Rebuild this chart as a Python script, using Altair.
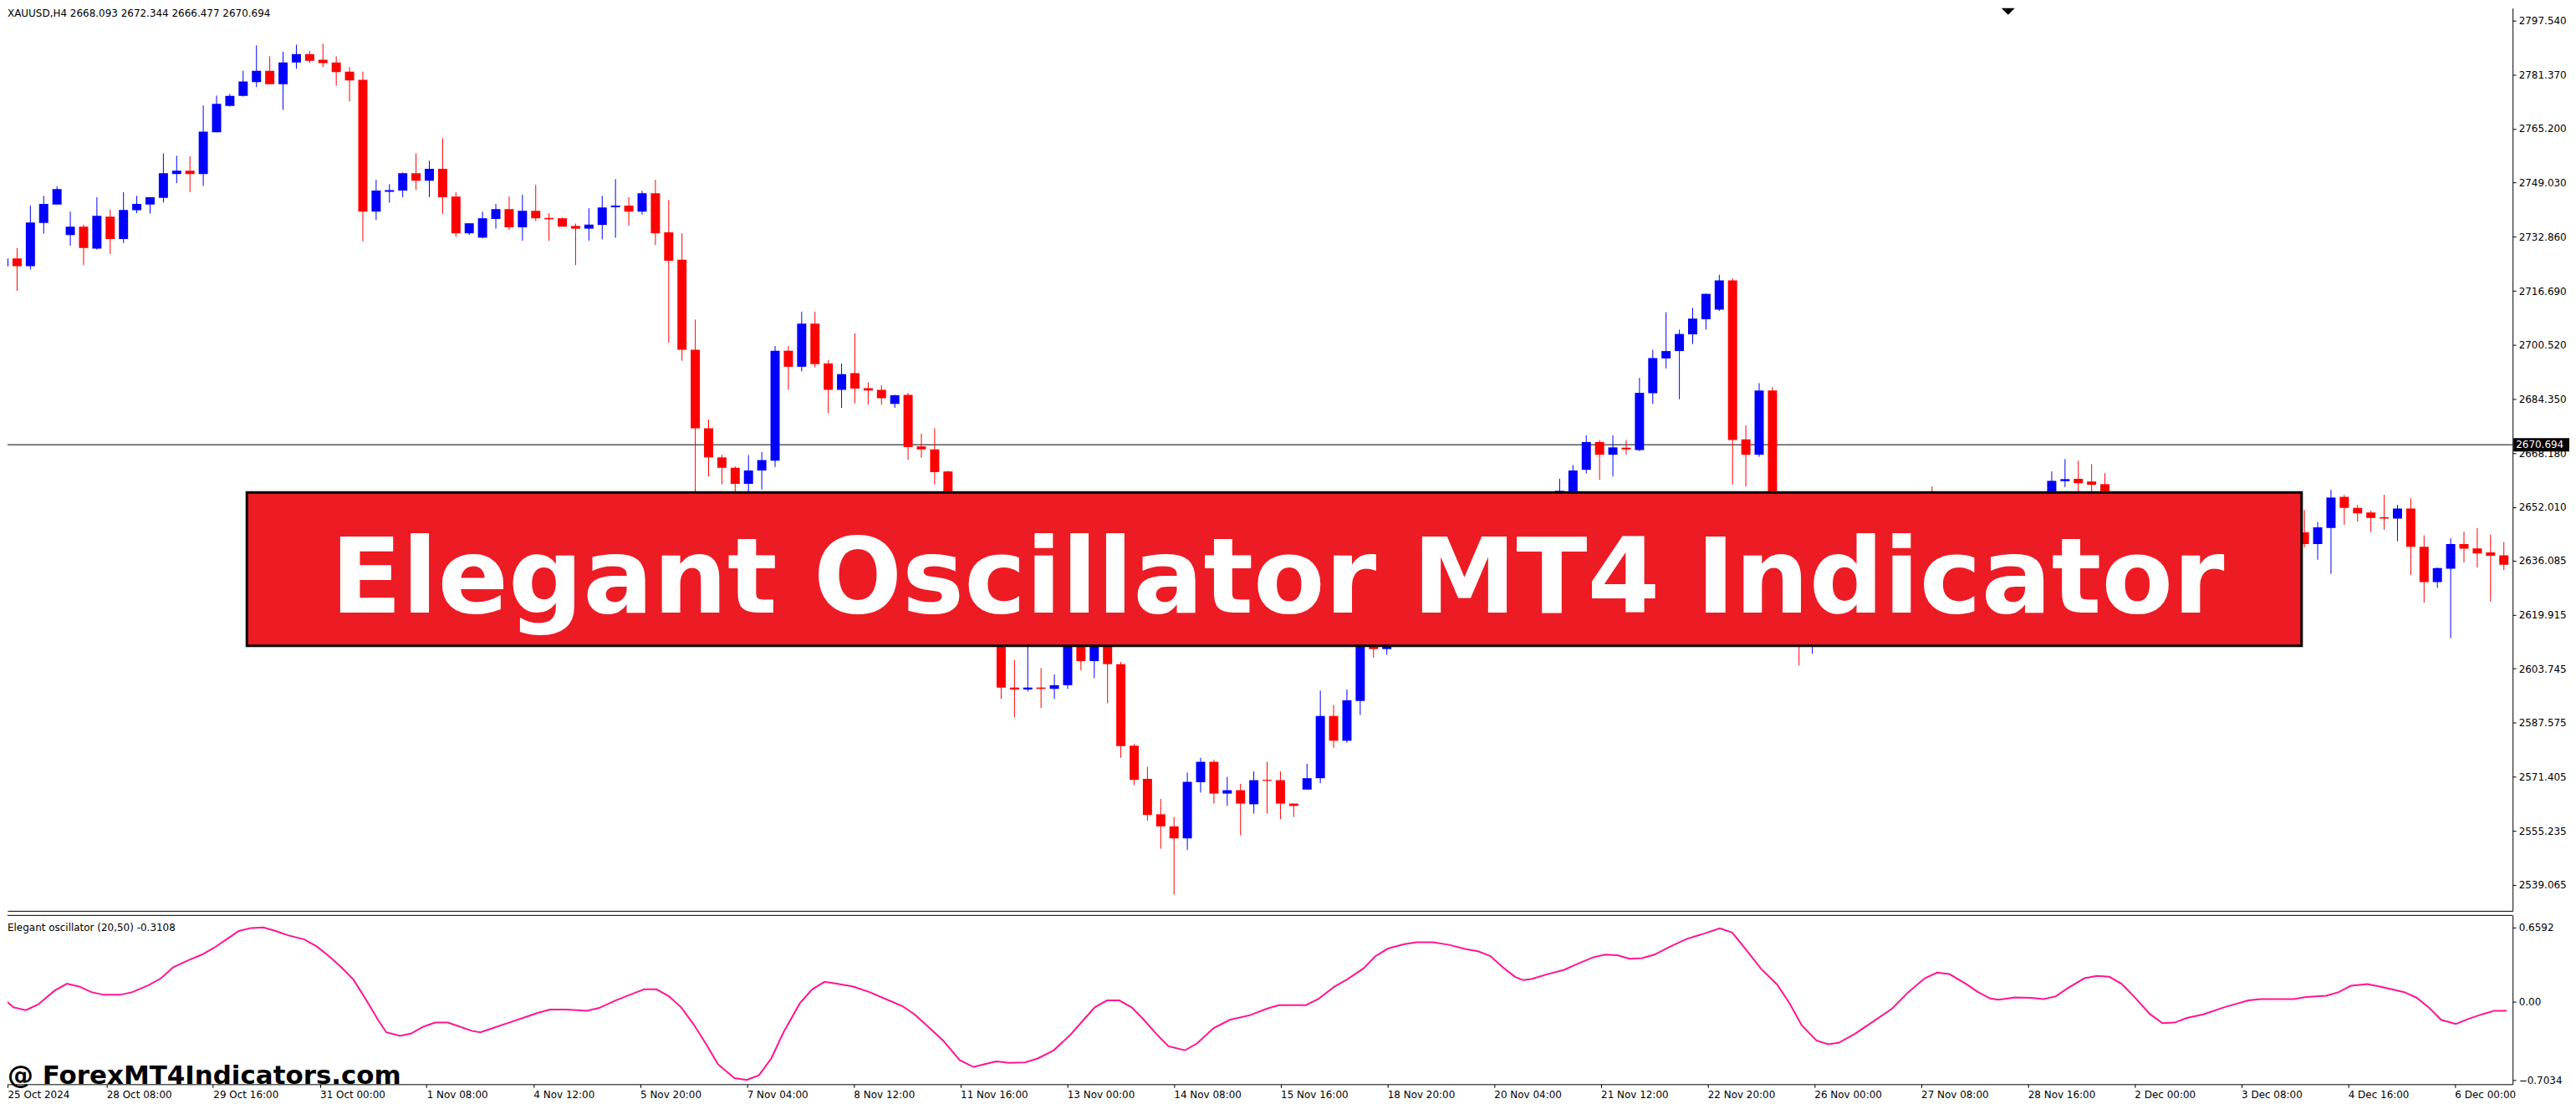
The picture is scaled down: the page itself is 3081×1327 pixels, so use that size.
import json
import altair as alt
import pandas as pd

# ---------------- data ----------------
opens = [
    2724.0, 2726.4, 2724.1, 2737.0, 2742.5, 2733.4, 2735.9, 2729.3, 2738.9, 2732.2,
    2740.8, 2742.5, 2744.5, 2751.6, 2752.6, 2751.6, 2764.1, 2772.0, 2775.0, 2779.1,
    2782.5, 2778.5, 2785.0, 2787.5, 2785.8, 2785.0, 2782.2, 2779.8, 2740.4, 2746.3,
    2746.7, 2751.9, 2749.6, 2753.2, 2744.9, 2733.9, 2732.6, 2738.2, 2741.1, 2735.7,
    2740.6, 2738.5, 2738.4, 2736.1, 2735.3, 2736.4, 2741.7, 2742.2, 2740.4, 2745.9,
    2734.2, 2726.0, 2699.1, 2675.6, 2666.9, 2663.8, 2659.0, 2663.0, 2665.9, 2698.8,
    2694.0, 2706.9, 2695.0, 2687.1, 2692.1, 2687.6, 2687.1, 2682.9, 2685.6, 2670.2,
    2669.3, 2662.7, 2648.0, 2632.0, 2638.0, 2622.0, 2598.1, 2597.5, 2598.1, 2597.7,
    2598.8, 2614.0, 2606.0, 2613.0, 2605.1, 2580.7, 2570.8, 2560.2, 2556.6, 2553.0,
    2569.8, 2575.9, 2566.4, 2567.4, 2563.2, 2570.4, 2570.4, 2563.4, 2567.6, 2571.0,
    2589.6, 2582.2, 2594.1, 2618.0, 2609.6, 2624.0, 2632.0, 2628.0, 2640.0, 2636.0,
    2645.0, 2641.0, 2638.0, 2644.0, 2640.0, 2646.0, 2650.0, 2656.4, 2652.0, 2663.2,
    2671.5, 2667.7, 2669.8, 2669.1, 2686.1, 2696.5, 2698.7, 2703.7, 2708.2, 2711.1,
    2719.8, 2672.3, 2667.7, 2686.9, 2640.0, 2627.0, 2616.0, 2621.0, 2617.0, 2626.0,
    2631.0, 2634.0, 2639.0, 2643.0, 2647.0, 2650.0, 2648.0, 2645.0, 2640.0, 2637.0,
    2639.0, 2638.0, 2642.0, 2645.0, 2650.0, 2659.8, 2660.5, 2659.7, 2658.9, 2648.0,
    2642.0, 2634.0, 2628.0, 2631.0, 2636.0, 2633.0, 2638.0, 2641.0, 2639.0, 2643.0,
    2641.0, 2644.0, 2642.0, 2644.5, 2641.0, 2645.8, 2655.1, 2651.8, 2650.4, 2649.0,
    2648.6, 2651.6, 2640.2, 2629.6, 2633.6, 2641.0, 2639.7, 2638.5, 2637.6,
]
highs = [
    2728.0, 2729.5, 2742.2, 2745.1, 2747.9, 2740.4, 2736.5, 2744.7, 2741.0, 2746.2,
    2745.1, 2744.7, 2757.8, 2757.1, 2756.9, 2772.1, 2775.1, 2775.6, 2782.5, 2790.1,
    2786.8, 2788.2, 2790.3, 2788.4, 2790.6, 2786.8, 2783.6, 2782.2, 2749.9, 2748.6,
    2752.1, 2757.8, 2755.6, 2762.3, 2746.2, 2736.9, 2740.4, 2742.7, 2744.9, 2745.4,
    2748.4, 2739.9, 2738.6, 2736.8, 2741.4, 2745.1, 2750.1, 2744.7, 2746.6, 2749.9,
    2743.9, 2733.9, 2708.1, 2678.2, 2667.7, 2664.2, 2667.6, 2668.5, 2700.2, 2700.2,
    2710.5, 2710.5, 2696.0, 2695.0, 2704.0, 2689.3, 2688.5, 2685.6, 2686.2, 2674.0,
    2675.6, 2662.9, 2650.0, 2641.0, 2640.0, 2624.0, 2606.4, 2613.0, 2603.9, 2602.0,
    2616.0, 2616.0, 2615.0, 2615.0, 2605.8, 2581.2, 2574.4, 2564.8, 2559.4, 2572.7,
    2577.1, 2576.5, 2571.4, 2569.3, 2573.0, 2575.9, 2573.0, 2563.4, 2575.3, 2597.2,
    2592.9, 2597.5, 2620.0, 2621.0, 2626.0, 2634.0, 2636.0, 2642.0, 2644.0, 2648.0,
    2647.0, 2643.0, 2646.0, 2645.0, 2648.0, 2652.0, 2656.5, 2660.5, 2664.6, 2673.5,
    2672.1, 2673.5, 2672.1, 2690.7, 2699.1, 2710.3, 2705.1, 2711.6, 2715.9, 2721.5,
    2720.4, 2676.5, 2689.1, 2687.9, 2642.0, 2630.0, 2624.0, 2625.0, 2628.0, 2633.0,
    2636.0, 2641.0, 2645.0, 2649.0, 2652.0, 2658.2, 2653.0, 2649.0, 2644.0, 2641.0,
    2643.0, 2644.0, 2647.0, 2652.0, 2662.7, 2666.4, 2665.9, 2664.9, 2662.2, 2650.0,
    2644.0, 2637.0, 2634.0, 2638.0, 2639.0, 2641.0, 2644.0, 2643.0, 2646.0, 2645.0,
    2647.0, 2646.0, 2648.0, 2651.2, 2647.6, 2657.2, 2655.7, 2652.7, 2651.0, 2655.7,
    2652.7, 2654.7, 2643.6, 2634.0, 2642.7, 2644.7, 2645.8, 2643.8, 2641.6,
]
lows = [
    2722.0, 2716.7, 2723.1, 2733.8, 2742.5, 2730.2, 2724.4, 2729.0, 2727.7, 2731.0,
    2739.9, 2739.8, 2743.1, 2748.9, 2746.2, 2748.1, 2764.1, 2771.8, 2774.8, 2777.6,
    2778.5, 2770.8, 2783.1, 2784.8, 2783.6, 2778.0, 2773.3, 2731.5, 2737.9, 2743.1,
    2744.7, 2746.9, 2744.7, 2739.7, 2732.9, 2733.4, 2732.4, 2735.3, 2734.9, 2731.7,
    2737.6, 2731.7, 2735.9, 2724.4, 2731.7, 2732.1, 2732.6, 2736.2, 2739.5, 2730.4,
    2701.2, 2695.8, 2650.0, 2661.2, 2658.8, 2654.0, 2653.0, 2657.3, 2664.0, 2687.1,
    2692.6, 2693.8, 2680.1, 2681.7, 2683.1, 2682.7, 2682.7, 2681.7, 2666.2, 2666.8,
    2658.8, 2645.0, 2628.0, 2629.0, 2618.0, 2594.7, 2589.2, 2596.9, 2592.0, 2594.7,
    2597.7, 2603.2, 2600.9, 2593.4, 2577.1, 2568.9, 2558.3, 2549.9, 2536.2, 2549.6,
    2566.7, 2563.4, 2562.7, 2553.9, 2560.4, 2560.4, 2558.8, 2559.4, 2567.6, 2569.5,
    2580.1, 2581.6, 2589.9, 2607.0, 2607.9, 2620.0, 2626.0, 2627.0, 2633.0, 2634.0,
    2638.0, 2634.0, 2636.0, 2637.0, 2638.0, 2644.0, 2648.0, 2652.0, 2650.0, 2662.1,
    2660.2, 2661.2, 2667.7, 2668.8, 2682.9, 2693.5, 2684.3, 2700.8, 2705.1, 2710.7,
    2658.8, 2658.2, 2667.1, 2636.0, 2624.0, 2604.7, 2608.2, 2613.0, 2615.0, 2622.0,
    2627.0, 2632.0, 2636.0, 2640.0, 2643.0, 2646.0, 2643.0, 2638.0, 2634.0, 2633.0,
    2635.0, 2636.0, 2640.0, 2643.0, 2648.0, 2658.0, 2655.0, 2654.0, 2645.0, 2639.0,
    2630.0, 2622.0, 2620.0, 2628.0, 2630.0, 2631.0, 2636.0, 2636.0, 2637.0, 2638.0,
    2639.0, 2639.0, 2640.0, 2640.0, 2636.3, 2632.1, 2646.8, 2647.7, 2644.6, 2645.3,
    2641.8, 2631.8, 2623.5, 2627.9, 2612.9, 2635.5, 2634.0, 2623.8, 2633.2,
]
closes = [
    2726.4, 2724.1, 2737.1, 2742.7, 2747.1, 2735.9, 2729.5, 2739.1, 2732.2, 2740.9,
    2742.7, 2744.7, 2751.9, 2752.6, 2751.6, 2764.3, 2772.6, 2775.0, 2779.3, 2782.5,
    2778.5, 2785.0, 2787.5, 2785.5, 2784.8, 2782.1, 2779.6, 2740.4, 2746.7, 2746.8,
    2751.9, 2749.6, 2753.2, 2744.7, 2733.9, 2736.9, 2738.4, 2741.1, 2735.7, 2740.6,
    2738.4, 2738.1, 2735.9, 2735.3, 2736.5, 2741.6, 2742.2, 2740.4, 2745.9, 2733.9,
    2725.7, 2699.1, 2675.6, 2666.9, 2663.8, 2659.0, 2663.0, 2666.1, 2698.8, 2694.0,
    2706.9, 2694.8, 2687.1, 2691.8, 2687.5, 2686.9, 2684.6, 2685.5, 2670.0, 2669.3,
    2662.5, 2648.0, 2632.0, 2638.0, 2622.0, 2598.1, 2597.5, 2598.1, 2597.7, 2598.8,
    2614.0, 2606.0, 2613.0, 2605.1, 2580.6, 2570.5, 2560.0, 2556.6, 2553.0, 2569.9,
    2575.9, 2566.4, 2567.4, 2563.4, 2570.4, 2570.2, 2563.4, 2562.7, 2571.0, 2589.6,
    2582.2, 2594.3, 2618.0, 2609.6, 2624.0, 2632.0, 2628.0, 2640.0, 2636.0, 2645.0,
    2641.0, 2638.0, 2644.0, 2640.0, 2646.0, 2650.0, 2656.4, 2656.9, 2663.0, 2671.5,
    2667.7, 2669.9, 2669.3, 2686.2, 2696.6, 2698.7, 2703.8, 2708.4, 2715.8, 2719.8,
    2672.1, 2667.7, 2686.9, 2640.0, 2627.0, 2616.0, 2621.0, 2617.0, 2626.0, 2631.0,
    2634.0, 2639.0, 2643.0, 2647.0, 2650.0, 2648.0, 2645.0, 2640.0, 2637.0, 2639.0,
    2638.0, 2642.0, 2645.0, 2650.0, 2659.9, 2660.4, 2659.2, 2658.7, 2648.0, 2642.0,
    2634.0, 2628.0, 2631.0, 2636.0, 2633.0, 2638.0, 2641.0, 2639.0, 2643.0, 2641.0,
    2644.0, 2642.0, 2644.5, 2641.0, 2646.0, 2654.9, 2651.8, 2650.2, 2648.8, 2648.6,
    2651.6, 2640.2, 2629.6, 2633.8, 2641.0, 2639.6, 2638.2, 2637.5, 2634.8,
]

# oscillator trace: (bar position, value)
osc_trace = [
    (0.1, 0.040), (1.05, -0.054), (1.97, -0.079), (2.89, -0.029), (4.12, 0.095),
    (5.04, 0.157), (5.96, 0.132), (6.88, 0.082), (7.8, 0.058), (9.03, 0.058),
    (9.95, 0.082), (11.17, 0.144), (12.1, 0.206), (13.02, 0.305), (14.24, 0.372),
    (15.16, 0.417), (16.09, 0.479), (17.0, 0.553), (17.93, 0.628), (18.85, 0.655),
    (19.77, 0.659), (20.69, 0.628), (21.61, 0.590), (22.84, 0.553), (23.76, 0.491),
    (24.68, 0.404), (25.6, 0.305), (26.52, 0.194), (27.44, 0.020), (28.36, -0.165),
    (28.98, -0.277), (30.02, -0.309), (30.82, -0.289), (31.74, -0.227), (32.66, -0.190),
    (33.58, -0.190), (34.5, -0.227), (35.42, -0.265), (36.04, -0.277), (36.96, -0.240),
    (38.19, -0.190), (39.41, -0.141), (40.33, -0.104), (41.25, -0.074), (42.48, -0.074),
    (44.02, -0.084), (44.94, -0.059), (46.17, 0.008), (47.39, 0.065), (48.31, 0.107),
    (49.24, 0.107), (50.16, 0.045), (51.08, -0.054), (52.0, -0.203), (52.92, -0.376),
    (53.84, -0.562), (55.07, -0.686), (55.99, -0.703), (56.91, -0.661), (57.83, -0.512),
    (58.75, -0.277), (59.98, -0.017), (60.9, 0.107), (61.82, 0.174), (62.74, 0.157),
    (63.97, 0.132), (65.2, 0.082), (66.42, 0.020), (67.65, -0.042), (68.57, -0.116),
    (69.49, -0.215), (70.72, -0.351), (71.95, -0.525), (72.99, -0.587), (73.79, -0.562),
    (74.71, -0.537), (75.63, -0.550), (76.86, -0.545), (77.78, -0.512), (79.0, -0.438),
    (80.23, -0.302), (81.15, -0.178), (82.08, -0.054), (83.0, 0.008), (83.92, 0.008),
    (84.84, -0.054), (85.76, -0.165), (86.68, -0.289), (87.6, -0.401), (88.83, -0.438),
    (89.75, -0.376), (90.98, -0.240), (92.2, -0.165), (93.74, -0.123), (94.97, -0.066),
    (95.89, -0.034), (97.91, -0.034), (98.83, 0.020), (100.06, 0.132), (100.98, 0.194),
    (102.21, 0.293), (103.13, 0.404), (104.05, 0.471), (105.28, 0.511), (106.2, 0.528),
    (107.43, 0.528), (108.66, 0.504), (109.89, 0.466), (110.81, 0.447), (111.73, 0.404),
    (112.65, 0.305), (113.57, 0.219), (114.19, 0.189), (114.8, 0.199), (116.03, 0.243),
    (117.26, 0.281), (118.18, 0.330), (119.41, 0.392), (120.33, 0.417), (121.25, 0.412),
    (122.17, 0.380), (123.1, 0.385), (124.02, 0.417), (125.24, 0.491), (126.47, 0.558),
    (127.7, 0.603), (128.93, 0.652), (129.85, 0.615), (130.77, 0.479), (132.0, 0.293),
    (133.23, 0.149), (134.15, -0.017), (135.07, -0.215), (136.18, -0.351), (137.04, -0.383),
    (137.84, -0.371), (139.07, -0.289), (140.3, -0.190), (141.83, -0.066), (143.06, 0.082),
    (144.29, 0.206), (145.21, 0.256), (146.13, 0.243), (147.36, 0.157), (148.28, 0.082),
    (149.2, 0.025), (149.81, 0.015), (151.04, 0.035), (152.27, 0.030), (153.19, 0.020),
    (154.11, 0.045), (155.03, 0.119), (156.26, 0.206), (157.19, 0.226), (158.11, 0.219),
    (159.03, 0.157), (159.95, 0.045), (161.18, -0.116), (162.1, -0.195), (163.02, -0.190),
    (163.94, -0.148), (165.17, -0.116), (166.71, -0.054), (168.55, 0.008), (169.47, 0.020),
    (171.93, 0.020), (172.85, 0.038), (174.38, 0.050), (175.31, 0.082), (176.23, 0.139),
    (177.46, 0.154), (178.38, 0.132), (179.3, 0.107), (180.22, 0.082), (181.14, 0.033),
    (182.06, -0.054), (182.98, -0.165), (184.09, -0.202), (185.13, -0.153), (186.06, -0.116),
    (186.98, -0.084), (187.9, -0.084),
]

price_ticks = [2797.540, 2781.370, 2765.200, 2749.030, 2732.860, 2716.690, 2700.520,
               2684.350, 2668.180, 2652.010, 2636.085, 2619.915, 2603.745, 2587.575,
               2571.405, 2555.235, 2539.065]
osc_ticks = [0.6592, 0.0, -0.7034]
date_labels = ["25 Oct 2024", "28 Oct 08:00", "29 Oct 16:00", "31 Oct 00:00", "1 Nov 08:00",
               "4 Nov 12:00", "5 Nov 20:00", "7 Nov 04:00", "8 Nov 12:00", "11 Nov 16:00",
               "13 Nov 00:00", "14 Nov 08:00", "15 Nov 16:00", "18 Nov 20:00", "20 Nov 04:00",
               "21 Nov 12:00", "22 Nov 20:00", "26 Nov 00:00", "27 Nov 08:00", "28 Nov 16:00",
               "2 Dec 00:00", "3 Dec 08:00", "4 Dec 16:00", "6 Dec 00:00"]
bid_price = 2670.694
header_text = "XAUUSD,H4  2668.093 2672.344 2666.477 2670.694"
osc_title = "Elegant oscillator (20,50) -0.3108"
banner_title = "Elegant Oscillator MT4 Indicator"
watermark_text = "@ ForexMT4Indicators.com"

# ---------------- tables ----------------
n = min(len(opens), len(highs), len(lows), len(closes))
df = pd.DataFrame({
    "bar": list(range(n)),
    "open": opens[:n], "high": highs[:n], "low": lows[:n], "close": closes[:n],
})
osc_df = pd.DataFrame({"bar": [p[0] for p in osc_trace], "val": [p[1] for p in osc_trace]})
one = pd.DataFrame({"k": [0]})

# ---------------- layout ----------------
W, H_MAIN, H_OSC = 3004, 1083, 203
X_DOM = [0.59375, 188.34375]
FONT = "DejaVu Sans"

xscale = alt.Scale(domain=X_DOM, nice=False, zero=False)
pscale = alt.Scale(domain=[2531.34, 2801.23], nice=False, zero=False)
oscale = alt.Scale(domain=[-0.7406, 0.7709], nice=False, zero=False)

price_axis = alt.Axis(orient="right", values=price_ticks, format=".3f", title=None,
                      tickSize=4, labelPadding=3, labelOverlap=False, grid=False)
x_main = alt.X("bar:Q", scale=xscale,
               axis=alt.Axis(labels=False, ticks=False, domain=True, grid=False, title=None))
color = alt.Color("dir:N", scale=alt.Scale(domain=["up", "down"], range=["#0000FF", "#FF0000"]),
                  legend=None)

candles = alt.Chart(df).transform_calculate(
    dir="datum.close >= datum.open ? 'up' : 'down'",
    lo="min(datum.open, datum.close)",
    hi="max(datum.open, datum.close, min(datum.open, datum.close) + 0.3)",
)
wicks = candles.mark_rule(strokeWidth=1, clip=True).encode(
    x=x_main, y=alt.Y("low:Q", scale=pscale, axis=price_axis, title=None), y2="high:Q", color=color)
bodies = candles.mark_bar(size=11, clip=True).encode(
    x=x_main, y=alt.Y("lo:Q", scale=pscale, axis=price_axis, title=None), y2="hi:Q", color=color)

hline = alt.Chart(one).mark_rule(color="black", strokeWidth=1).encode(
    y=alt.YDatum(bid_price, scale=pscale, axis=price_axis, title=None))

box = alt.Chart(one).mark_rect(color="black", clip=False).encode(
    x=alt.value(W + 1), x2=alt.value(W + 68),
    y=alt.YDatum(bid_price + 2.0, scale=pscale, axis=price_axis, title=None),
    y2=alt.Y2Datum(bid_price - 2.0))
box_text = alt.Chart(one).mark_text(align="left", baseline="middle", color="white",
                                    fontSize=12, font=FONT).encode(
    x=alt.value(W + 4), y=alt.YDatum(bid_price, scale=pscale, axis=price_axis, title=None),
    text=alt.value(f"{bid_price:.3f}"))

banner_rect = alt.Chart(one).mark_rect(fill="#ED1C24", stroke="black", strokeWidth=3).encode(
    x=alt.value(287), x2=alt.value(2751), y=alt.value(581), y2=alt.value(765))
banner_text = alt.Chart(one).mark_text(font=FONT, fontWeight="bold", fontSize=125, color="white",
                                       align="center", baseline="alphabetic").encode(
    x=alt.value(1523), y=alt.value(725), text=alt.value(banner_title))

header = alt.Chart(one).mark_text(font=FONT, fontSize=12, color="black", align="left",
                                  baseline="alphabetic").encode(
    x=alt.value(0), y=alt.value(10), text=alt.value(header_text))

tri = alt.Chart(one).mark_point(shape="M-1,0L1,0L0,1Z", filled=True, size=256,
                                color="black", opacity=1).encode(x=alt.value(2399), y=alt.value(0))

main = alt.layer(hline, wicks, bodies, banner_rect, banner_text, header, box, box_text, tri).properties(
    width=W, height=H_MAIN)

# oscillator panel
date_ticks = [X_DOM[0]] + [8 * k for k in range(1, len(date_labels))]
osc_x = alt.X("bar:Q", scale=xscale, axis=alt.Axis(
    values=date_ticks, labelExpr=f"{json.dumps(date_labels)}[round(datum.value / 8)]",
    labelAlign="left", labelBaseline="top", labelOverlap=False, labelFlush=False,
    tickSize=4, labelPadding=3, grid=False, title=None, domain=True))
osc_axis = alt.Axis(orient="right", values=osc_ticks,
                    labelExpr="datum.value == 0 ? '0.00' : format(datum.value, '.4f')",
                    tickSize=4, labelPadding=3, labelOverlap=False, grid=False, title=None)

osc_line = alt.Chart(osc_df).mark_line(color="#FF1493", strokeWidth=2, clip=True).encode(
    x=osc_x, y=alt.Y("val:Q", scale=oscale, axis=osc_axis, title=None))
osc_top = alt.Chart(one).mark_rule(color="black", strokeWidth=1).encode(
    x=alt.value(0), x2=alt.value(W), y=alt.value(0.5))
osc_label = alt.Chart(one).mark_text(font=FONT, fontSize=12, color="black", align="left",
                                     baseline="alphabetic").encode(
    x=alt.value(0), y=alt.value(19), text=alt.value(osc_title))
watermark = alt.Chart(one).mark_text(font=FONT, fontWeight="bold", fontSize=31, color="black",
                                     align="left", baseline="alphabetic").encode(
    x=alt.value(0), y=alt.value(203), text=alt.value(watermark_text))

osc = alt.layer(osc_line, osc_top, osc_label, watermark).properties(width=W, height=H_OSC)

chart = alt.vconcat(main, osc, spacing=5).properties(
    padding=0, background="white"
).configure_view(stroke=None).configure_axis(
    domainColor="black", tickColor="black", labelColor="black",
    labelFont=FONT, labelFontSize=12, grid=False, domainWidth=1, tickWidth=1,
)

chart.save("out.html", embed_options={"renderer": "svg", "actions": False})
